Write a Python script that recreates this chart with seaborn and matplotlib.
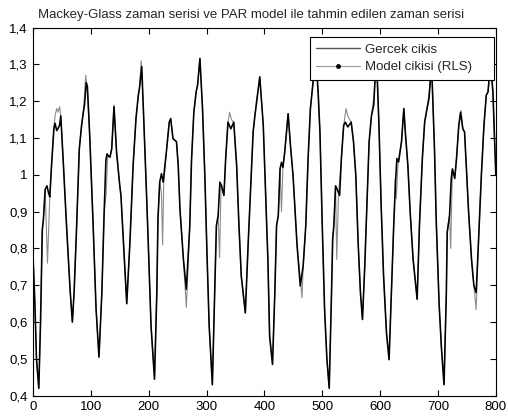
import matplotlib
matplotlib.use("Agg")
import matplotlib.pyplot as plt
from matplotlib.lines import Line2D
from matplotlib.ticker import FixedLocator, FixedFormatter
import seaborn as sns
import pandas as pd

# ---- data ----
t_actual = [0, 3, 6, 10, 13, 16, 18, 21, 24, 27, 29, 32, 36, 38, 41, 43, 46, 48, 52, 55,
            58, 64, 68, 71, 75, 80, 84, 87, 89, 92, 94, 98, 104, 109, 114, 119, 123, 126, 128, 131,
            133, 136, 140, 144.5, 150, 152, 156, 162, 167.5, 173, 178, 182, 184, 188, 190.5, 195, 199, 204, 210, 214,
            216, 219, 222, 225, 231, 235.5, 238, 242, 248, 251, 254, 260, 265, 271, 274, 278, 282, 284.5, 288.5, 293,
            297, 301, 304.5, 310, 314, 317, 320, 323, 326, 330, 333, 337, 342, 347, 352, 356, 360, 367, 372, 378,
            380.5, 383.5, 386, 392, 398, 402, 406, 409, 414, 418, 421, 424, 427, 429.5, 432, 435, 441, 445, 449.5, 452.5,
            456.5, 462, 467, 471.5, 475.5, 479.5, 484, 489, 493, 496, 500, 504, 508, 512, 516, 518, 520, 523, 526, 530,
            533, 537, 540, 544, 550, 554, 558, 562, 566, 569.5, 573.5, 577.5, 581, 585, 589, 592, 594, 598, 602, 606,
            611, 615.5, 619.5, 623.5, 627, 629, 632, 637, 641, 644, 648, 652, 657, 664, 668, 673, 677, 680, 684.5, 689,
            694, 697, 702, 706, 710.5, 714.5, 716, 720, 723, 725, 729, 732, 736, 739, 743, 746, 749, 753, 758, 762,
            766, 770, 775, 779.5, 783.5, 786.5, 789, 791, 795, 800]
y_actual = [0.78, 0.66, 0.50, 0.42, 0.60, 0.85, 0.88, 0.96, 0.97, 0.95, 0.94, 1.025, 1.125, 1.14, 1.12, 1.125, 1.135, 1.16, 1.044, 0.95,
            0.86, 0.69, 0.60, 0.68, 0.844, 1.07, 1.135, 1.17, 1.19, 1.25, 1.24, 1.107, 0.86, 0.635, 0.505, 0.68, 0.90, 1.04, 1.057, 1.05,
            1.048, 1.07, 1.185, 1.06, 0.97, 0.944, 0.825, 0.65, 0.816, 1.025, 1.153, 1.216, 1.235, 1.294, 1.19, 1.00, 0.825, 0.59, 0.445, 0.68,
            0.88, 0.98, 1.003, 0.98, 1.07, 1.143, 1.153, 1.098, 1.09, 1.025, 0.907, 0.77, 0.689, 0.862, 1.04, 1.17, 1.225, 1.244, 1.316, 1.18,
            0.998, 0.771, 0.59, 0.43, 0.68, 0.862, 0.89, 0.98, 0.97, 0.944, 1.043, 1.143, 1.125, 1.143, 1.025, 0.862, 0.725, 0.625, 0.816, 1.025,
            1.116, 1.16, 1.19, 1.266, 1.135, 0.953, 0.77, 0.562, 0.485, 0.68, 0.862, 0.89, 1.016, 1.034, 1.02, 1.06, 1.166, 1.08, 0.998, 0.916,
            0.807, 0.698, 0.753, 0.862, 1.044, 1.18, 1.25, 1.32, 1.22, 1.116, 0.862, 0.635, 0.50, 0.42, 0.68, 0.825, 0.862, 0.97, 0.96, 0.944,
            1.043, 1.134, 1.143, 1.13, 1.143, 1.09, 0.998, 0.816, 0.68, 0.607, 0.753, 0.935, 1.09, 1.16, 1.19, 1.28, 1.31, 1.134, 0.907, 0.725,
            0.571, 0.498, 0.68, 0.862, 0.99, 1.044, 1.035, 1.09, 1.18, 1.107, 1.025, 0.898, 0.771, 0.662, 0.862, 1.044, 1.143, 1.17, 1.207, 1.30,
            1.07, 0.876, 0.649, 0.53, 0.43, 0.68, 0.844, 0.889, 0.99, 1.016, 0.99, 1.043, 1.134, 1.17, 1.125, 1.116, 1.025, 0.898, 0.771, 0.70,
            0.68, 0.816, 0.998, 1.134, 1.216, 1.225, 1.27, 1.30, 1.225, 1.00]

t_model = [0, 3, 6, 10, 13, 16, 18, 21, 25, 29, 32, 36, 38, 41, 43, 46, 48, 52, 55,
           58, 64, 68, 71, 75, 80, 84, 86, 88, 91, 94, 98, 104, 109, 114, 119, 123, 126.5, 129, 131,
           133, 136, 140, 144.5, 150, 152, 156, 162, 167.5, 173, 178, 182, 184, 187, 190.5, 195, 199, 204, 210, 214,
           216, 219, 222, 224, 226, 231, 235.5, 238, 242, 248, 251, 254, 260, 265, 271, 274, 278, 282, 284.5, 288.5, 293,
           297, 301, 304.5, 310, 314, 317, 320, 322.5, 325, 330, 333, 337, 340, 343, 347, 352, 356, 360, 367, 372, 378,
           380.5, 383.5, 386, 392, 398, 402, 406, 409, 414, 418, 421, 424, 427, 429.5, 432, 435, 441, 445, 449.5, 452.5,
           456.5, 465, 467, 471.5, 475.5, 479.5, 484, 489, 493, 496, 500, 504, 508, 512, 516, 518, 520, 523, 525, 528,
           533, 537, 541, 544, 550, 554, 558, 562, 566, 569.5, 573.5, 577.5, 581, 585, 589, 592, 594, 598, 602, 606,
           611, 615.5, 619.5, 623.5, 626, 628, 631, 637, 641, 644, 648, 652, 657, 664, 668, 673, 677, 680, 684.5, 689,
           694, 697, 702, 706, 710.5, 714.5, 716, 720, 722, 725, 729, 732, 736, 740, 743, 746, 749, 753, 758, 762,
           766, 770, 775, 779.5, 783.5, 786.5, 789, 791, 795, 800]
y_model = [0.78, 0.66, 0.50, 0.42, 0.60, 0.85, 0.88, 0.96, 0.76, 0.94, 1.025, 1.125, 1.16, 1.18, 1.17, 1.185, 1.16, 1.044, 0.95,
           0.86, 0.69, 0.60, 0.68, 0.844, 1.07, 1.135, 1.16, 1.19, 1.27, 1.23, 1.107, 0.86, 0.635, 0.505, 0.68, 0.90, 0.95, 1.05, 1.05,
           1.048, 1.07, 1.19, 1.06, 0.97, 0.944, 0.825, 0.65, 0.816, 1.025, 1.153, 1.216, 1.235, 1.31, 1.19, 1.00, 0.825, 0.59, 0.445, 0.68,
           0.88, 0.98, 0.95, 0.81, 0.98, 1.07, 1.143, 1.153, 1.098, 1.09, 1.025, 0.907, 0.77, 0.64, 0.862, 1.04, 1.17, 1.225, 1.244, 1.316, 1.18,
           0.998, 0.771, 0.59, 0.43, 0.68, 0.862, 0.89, 0.775, 0.97, 0.944, 1.043, 1.143, 1.17, 1.15, 1.143, 1.025, 0.862, 0.725, 0.625, 0.816, 1.025,
           1.116, 1.16, 1.20, 1.266, 1.135, 0.953, 0.77, 0.562, 0.485, 0.68, 0.862, 0.89, 1.016, 0.90, 1.02, 1.06, 1.166, 1.08, 0.998, 0.916,
           0.807, 0.666, 0.753, 0.862, 1.044, 1.18, 1.25, 1.32, 1.22, 1.116, 0.862, 0.635, 0.50, 0.42, 0.68, 0.825, 0.862, 0.97, 0.77, 0.944,
           1.043, 1.134, 1.18, 1.16, 1.143, 1.09, 0.998, 0.816, 0.68, 0.607, 0.753, 0.935, 1.09, 1.16, 1.21, 1.28, 1.31, 1.134, 0.907, 0.725,
           0.571, 0.498, 0.68, 0.862, 0.99, 0.935, 1.035, 1.09, 1.18, 1.107, 1.025, 0.898, 0.771, 0.662, 0.862, 1.044, 1.143, 1.17, 1.22, 1.30,
           1.07, 0.876, 0.649, 0.53, 0.43, 0.68, 0.844, 0.889, 0.80, 1.016, 0.99, 1.043, 1.134, 1.175, 1.125, 1.116, 1.025, 0.898, 0.771, 0.70,
           0.634, 0.816, 0.998, 1.134, 1.216, 1.225, 1.27, 1.31, 1.225, 1.00]

x_ticks = [0, 100, 200, 300, 400, 500, 600, 700, 800]
y_ticks = [0.4, 0.5, 0.6, 0.7, 0.8, 0.9, 1.0, 1.1, 1.2, 1.3, 1.4]
y_tick_labels = ["0,4", "0,5", "0,6", "0,7", "0,8", "0,9", "1", "1,1", "1,2", "1,3", "1,4"]
title_text = "Mackey-Glass zaman serisi ve PAR model ile tahmin edilen zaman serisi"
labels = ["Gercek cikis", "Model cikisi (RLS)"]

# ---- plot ----
sns.set_style("ticks")
plt.rcParams["font.family"] = ["Liberation Sans", "DejaVu Sans"]
plt.rcParams["font.size"] = 9.5

fig = plt.figure(figsize=(5.08, 4.17), dpi=100)
ax = fig.add_axes([0.065, 0.051, 0.911, 0.883])

df_a = pd.DataFrame({"t": t_actual, "y": y_actual})
df_m = pd.DataFrame({"t": t_model, "y": y_model})
sns.lineplot(data=df_m, x="t", y="y", ax=ax, color="#8c8c8c", linewidth=0.8,
             estimator=None, sort=False, legend=False)
sns.lineplot(data=df_a, x="t", y="y", ax=ax, color="black", linewidth=1.15,
             estimator=None, sort=False, legend=False)

ax.set_xlim(0, 800)
ax.set_ylim(0.4, 1.4)
ax.xaxis.set_major_locator(FixedLocator(x_ticks))
ax.yaxis.set_major_locator(FixedLocator(y_ticks))
ax.yaxis.set_major_formatter(FixedFormatter(y_tick_labels))
ax.set_xlabel("")
ax.set_ylabel("")
ax.tick_params(direction="in", length=4, width=0.8, top=True, right=True,
               labelsize=9.5, colors="black", pad=4)
for s in ax.spines.values():
    s.set_visible(True)
    s.set_color("black")
    s.set_linewidth(0.8)

fig.text(0.494, 0.965, title_text, ha="center", va="center", fontsize=9.5)

handles = [Line2D([], [], color="#555555", linewidth=1.0),
           Line2D([], [], color="#999999", linewidth=0.8, marker=".",
                  markerfacecolor="black", markeredgecolor="black", markersize=5)]
leg = ax.legend(handles, labels, loc="upper right",
                bbox_to_anchor=(0.598, 0.0, 0.398, 0.974), mode="expand",
                borderaxespad=0, frameon=True, fancybox=False, edgecolor="black",
                framealpha=1, fontsize=9.5, handlelength=3.3, borderpad=0.5,
                labelspacing=0.4, handletextpad=0.35, numpoints=1)
leg.get_frame().set_linewidth(0.8)

fig.savefig("out.png", dpi=100)
